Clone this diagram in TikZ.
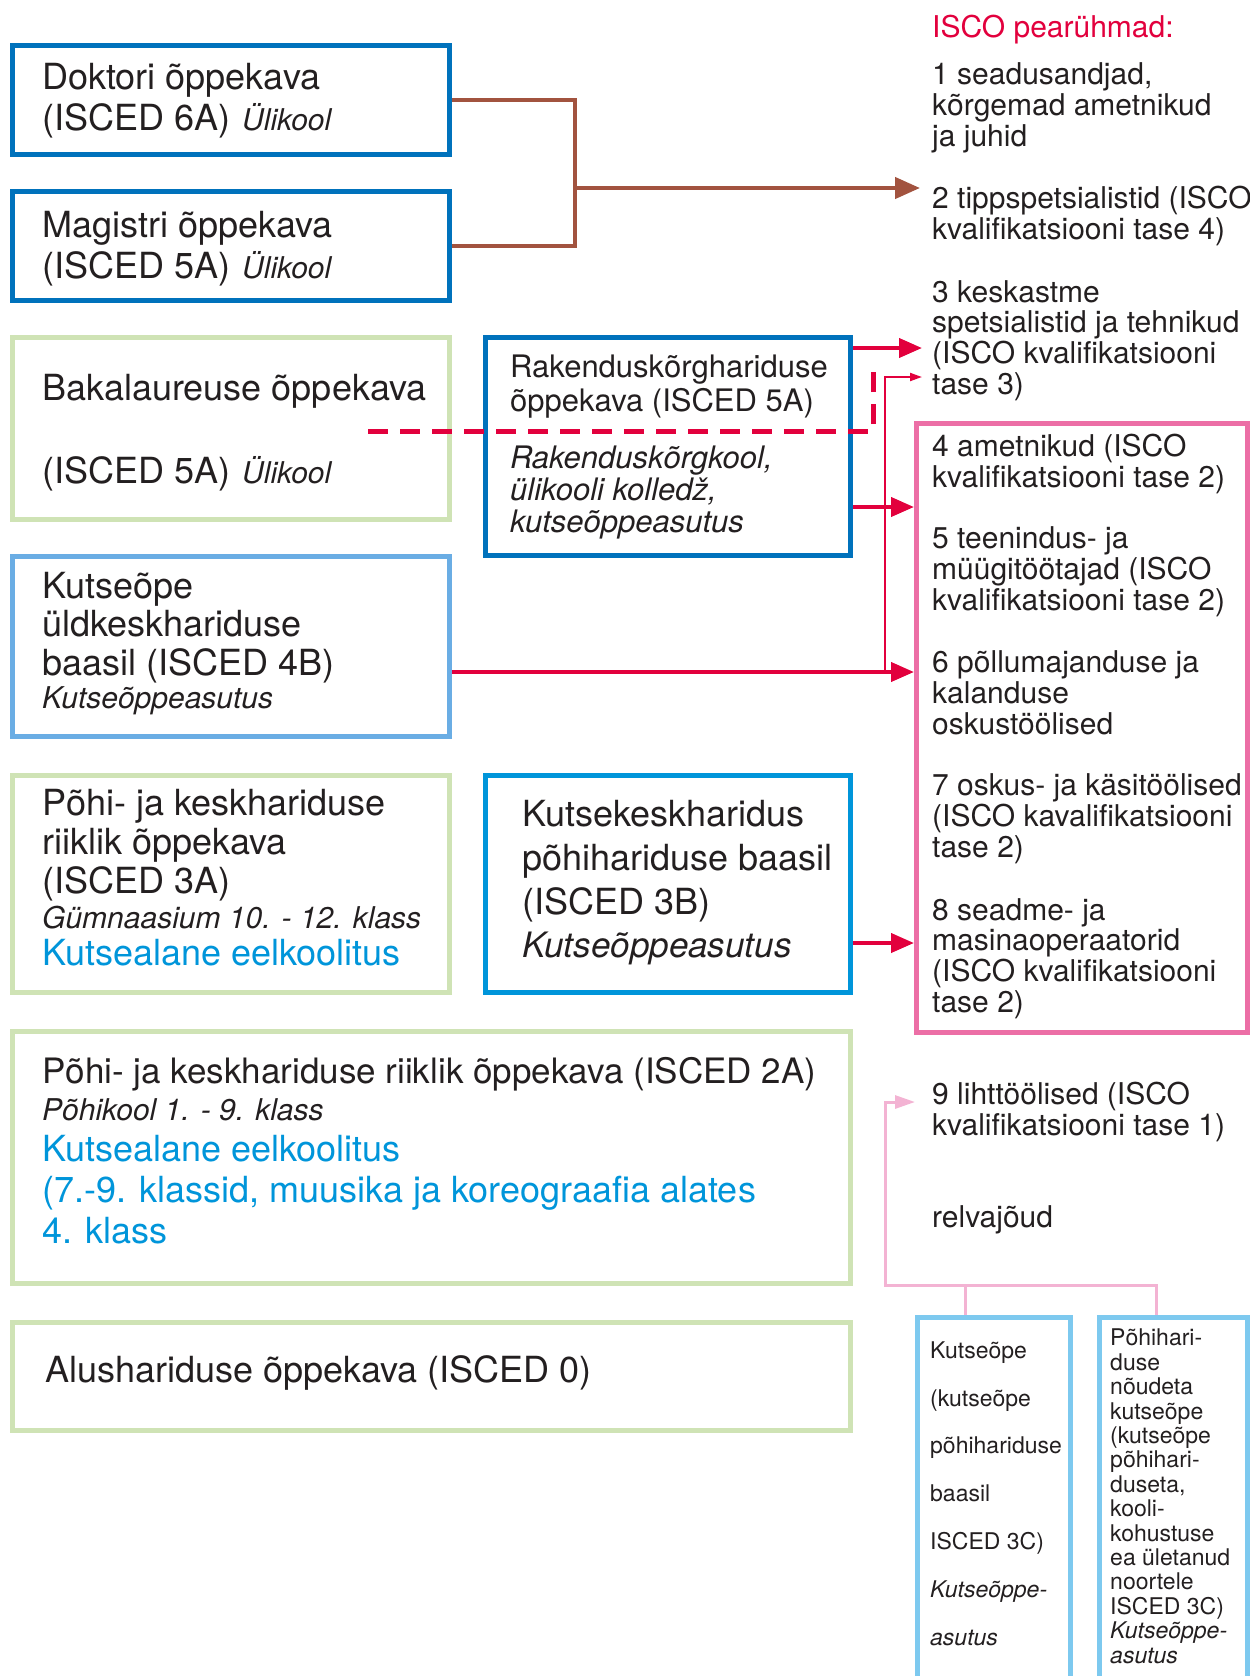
\documentclass[tikz,border=0pt]{standalone}
\usepackage{fontspec}
\setmainfont{TeX Gyre Heros}
\usepackage{tikz}
\usetikzlibrary{arrows.meta,calc}
\definecolor{dblue}{HTML}{0072BC}
\definecolor{mblue}{HTML}{0095DA}
\definecolor{lblue}{HTML}{6AADE4}
\definecolor{sblue}{HTML}{7DC9EF}
\definecolor{lgreen}{HTML}{CFE3B5}
\definecolor{pinkbox}{HTML}{EC6FA6}
\definecolor{pinkln}{HTML}{F3B3D3}
\definecolor{isred}{HTML}{E2003D}
\definecolor{brownln}{HTML}{A2533F}
\definecolor{ink}{HTML}{231F20}
\newcommand\itsm{\fontsize{30}{33}\selectfont\itshape}

\begin{document}
\begin{tikzpicture}[x=1pt,y=-1pt,
  box/.style={draw=#1, line width=5pt, inner sep=0pt},
  txt/.style={anchor=base west, align=left, inner sep=0pt, text=ink, font=\fontsize{36}{41}\selectfont},
  isco/.style={txt, font=\fontsize{30}{30.6}\selectfont},
  redarr/.style={isred, line width=4pt, -{Triangle[length=23pt,width=19pt]}},
  brarr/.style={brownln, line width=4.3pt, -{Triangle[length=25pt,width=21pt]}}]
\path[use as bounding box, clip] (0,0) rectangle (1250,1676);
\def\lx{42}\def\rx{932}
% boxes
\node[box=dblue, minimum width=437, minimum height=109] (doc) at (231,100) {};
\node[box=dblue, minimum width=437, minimum height=109] (mag) at (231,246) {};
\node[box=lgreen, minimum width=437, minimum height=182] (bak) at (231,428.5) {};
\node[box=lblue, minimum width=437, minimum height=180] (kut) at (231,646.5) {};
\node[box=dblue, minimum width=365, minimum height=218] (rak) at (668,446.5) {};
\node[box=lgreen, minimum width=437, minimum height=217] (gym) at (231,884) {};
\node[box=mblue, minimum width=365, minimum height=217] (kkh) at (668,884) {};
\node[box=lgreen, minimum width=838, minimum height=252] (phk) at (431.5,1157.5) {};
\node[box=lgreen, minimum width=838, minimum height=108] (alus) at (431.5,1376.5) {};
\node[box=pinkbox, minimum width=331, minimum height=609] (pink) at (1082,728) {};
\node[box=sblue, minimum width=153, minimum height=370] (sba) at (994,1502.5) {};
\node[box=sblue, minimum width=148, minimum height=370] (sbb) at (1173.5,1502.5) {};
% texts in the boxes (placed at the baseline of their last line)
\node[txt] (doct) at (\lx,130) {Doktori õppekava\\(ISCED 6A)\hspace{12pt}{\itsm Ülikool}};
\node[txt] (magt) at (\lx,278) {Magistri õppekava\\(ISCED 5A)\hspace{12pt}{\itsm Ülikool}};
\node[txt] (bakt) at (\lx,483) {Bakalaureuse õppekava\\[42pt](ISCED 5A)\hspace{12pt}{\itsm Ülikool}};
\node[txt, font=\fontsize{36}{38.5}\selectfont] (kutt) at (\lx,675) {Kutseõpe\\üldkeskhariduse\\baasil (ISCED 4B)};
\node[txt, font=\itsm] (kuti) at (\lx,708) {Kutseõppeasutus};
\node[txt, font=\fontsize{31}{34}\selectfont] (rakt) at (510,411) {Rakenduskõrghariduse\\õppekava (ISCED 5A)};
\node[txt, font=\fontsize{31}{32}\selectfont\itshape] (raki) at (510,532) {Rakenduskõrgkool,\\ülikooli kolledž,\\kutseõppeasutus};
\node[txt, font=\fontsize{36}{39}\selectfont] (gymt) at (\lx,893) {Põhi- ja keskhariduse\\riiklik õppekava\\(ISCED 3A)};
\node[txt, font=\itsm] (gymi) at (\lx,928) {Gümnaasium 10. - 12. klass};
\node[txt, text=mblue] (gymb) at (\lx,965) {Kutsealane eelkoolitus};
\node[txt, font=\fontsize{36}{44}\selectfont] (kkht) at (522,914) {Kutsekeskharidus\\põhihariduse baasil\\(ISCED 3B)};
\node[txt, font=\fontsize{35}{36}\selectfont\itshape] (kkhi) at (522,957) {Kutseõppeasutus};
\node[txt, font=\fontsize{35}{41}\selectfont] (phkt) at (\lx,1083) {Põhi- ja keskhariduse riiklik õppekava (ISCED 2A)};
\node[txt, font=\itsm] (phki) at (\lx,1120) {Põhikool 1. - 9. klass};
\node[txt, text=mblue] (phkb) at (\lx,1243) {Kutsealane eelkoolitus\\(7.-9. klassid, muusika ja koreograafia alates\\4. klass};
\node[txt] (alust) at (45,1382) {Alushariduse õppekava (ISCED 0)};
\node[txt, font=\fontsize{23}{47.8}\selectfont] (sbat) at (930,1645) {Kutseõpe\\(kutseõpe\\põhihariduse\\baasil\\ISCED 3C)\\{\itshape Kutseõppe-}\\{\itshape asutus}};
\node[txt, font=\fontsize{23}{24.4}\selectfont] (sbbt) at (1110,1663) {Põhihari-\\duse\\nõudeta\\kutseõpe\\(kutseõpe\\põhihari-\\duseta,\\kooli-\\kohustuse\\ea ületanud\\noortele\\ISCED 3C)\\{\itshape Kutseõppe-}\\{\itshape asutus}};
% ISCO groups
\node[isco, text=isred] (hdr) at (\rx,37) {ISCO pearühmad:};
\node[isco] (g1) at (\rx,146) {1 seadusandjad,\\kõrgemad ametnikud\\ja juhid};
\node[isco] (g2) at (\rx,239) {2 tippspetsialistid (ISCO\\kvalifikatsiooni tase 4)};
\node[isco] (g3) at (\rx,394) {3 keskastme\\spetsialistid ja tehnikud\\(ISCO kvalifikatsiooni\\tase 3)};
\node[isco] (g4) at (\rx,487) {4 ametnikud (ISCO\\kvalifikatsiooni tase 2)};
\node[isco] (g5) at (\rx,610) {5 teenindus- ja\\müügitöötajad (ISCO\\kvalifikatsiooni tase 2)};
\node[isco] (g6) at (\rx,734) {6 põllumajanduse ja\\kalanduse\\oskustöölised};
\node[isco] (g7) at (\rx,857) {7 oskus- ja käsitöölised\\(ISCO kavalifikatsiooni\\tase 2)};
\node[isco] (g8) at (\rx,1012) {8 seadme- ja\\masinaoperaatorid\\(ISCO kvalifikatsiooni\\tase 2)};
\node[isco] (g9) at (\rx,1135) {9 lihttöölised (ISCO\\kvalifikatsiooni tase 1)};
\node[isco] (relv) at (\rx,1227) {relvajõud};
% connectors
\coordinate (brj) at (575,188);
\coordinate (brtip) at (920,188);
\draw[brownln, line width=4.3pt] (doc.east) -| (brj) |- (mag.east);
\draw[brarr] (brj) -- (brtip);
\coordinate (t3) at (922,348);
\coordinate (t3b) at (922,377);
\coordinate (r4) at (0,507);
\coordinate (tv) at (885,672);
\coordinate (r8) at (0,943);
\coordinate (dA) at (368,431);
\coordinate (dB) at (873,362);
\draw[redarr] (rak.east |- t3) -- (t3);
\draw[redarr] (rak.east |- r4) -- (pink.west |- r4);
\draw[redarr] (kut.east |- tv) -- (pink.west |- tv);
\draw[isred, line width=2pt, -{Triangle[length=12pt,width=8pt]}] (tv) |- (t3b);
\draw[redarr] (kkh.east |- r8) -- (pink.west |- r8);
\draw[isred, line width=5pt, dash pattern=on 20pt off 12pt] (dA) -| (dB);
\coordinate (pj1) at (965,1285);
\coordinate (pj2) at (1156,1285);
\coordinate (pk) at (885,1102);
\coordinate (pt9) at (915,1102);
\draw[pinkln, line width=3pt] (sba.north -| pj1) -- (pj1);
\draw[pinkln, line width=3pt, -{Triangle[length=20pt,width=13pt]}] (sbb.north -| pj2) -- (pj2) -| (pk) -- (pt9);
\end{tikzpicture}
\end{document}
